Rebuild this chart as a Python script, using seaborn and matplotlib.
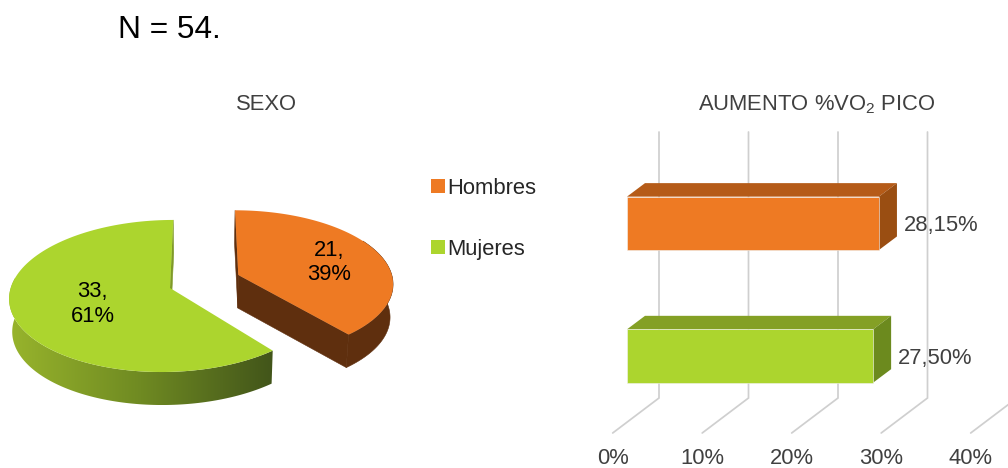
import numpy as np
import matplotlib
matplotlib.use("Agg")
import matplotlib.pyplot as plt
from matplotlib.colors import LinearSegmentedColormap
from matplotlib.patches import Patch, Polygon
import seaborn as sns

# Data
categories = ["Hombres", "Mujeres"]
counts = [21, 33]
vo2_increase = [28.15, 27.50]
vo2_labels = ["28,15%", "27,50%"]
axis_ticks = [0, 10, 20, 30, 40]
sample_note = "N = 54."
pie_title = "SEXO"
bar_title = "AUMENTO %VO$_2$ PICO"

# Colours
ORANGE, GREEN = "#ee7a23", "#acd52e"
ORANGE_TOP, ORANGE_SIDE = "#b55b18", "#9a4e12"
GREEN_TOP, GREEN_SIDE = "#84a025", "#6c8a1e"
ORANGE_WALL = "#5f2f0e"
GRID = "#cfcfcf"
TEXT = "#404040"

W, H = 1008, 468
FONT = 22 * 72 / 100  # 22 px at 100 dpi

sns.set_theme(style="white")
plt.rcParams["font.family"] = ["Liberation Sans", "DejaVu Sans"]
plt.rcParams["mathtext.default"] = "regular"

fig = plt.figure(figsize=(W / 100, H / 100), dpi=100, facecolor="white")

# Full-figure layer in pixel units for the pseudo-3D decoration
canvas = fig.add_axes([0, 0, 1, 1], zorder=0)
canvas.set_xlim(0, W)
canvas.set_ylim(H, 0)
canvas.axis("off")

# Front faces of the bars, on axes scaled in percent
left, right = 627, 627 + 40 * 8.95
top, bottom = 100, 440
row0, row_step = 223.3, 132.7
ax = fig.add_axes([left / W, 1 - bottom / H, (right - left) / W, (bottom - top) / H], zorder=1)
ax.patch.set_alpha(0)
sns.barplot(x=vo2_increase, y=categories, hue=categories, palette=[ORANGE, GREEN],
            orient="h", width=0.402, saturation=1, legend=False, ax=ax,
            edgecolor="#f2f2f2", linewidth=0.4)
ax.set_xlim(axis_ticks[0], axis_ticks[-1])
ax.set_ylim((bottom - row0) / row_step, (top - row0) / row_step)
ax.axis("off")


def to_px(x, y):
    return canvas.transData.inverted().transform(ax.transData.transform((x, y)))


# Back wall and floor gridlines
for t in axis_ticks:
    fx = to_px(t, 0)[0]
    floor_front = fx - 14.3
    canvas.plot([floor_front, fx + 32, fx + 32], [433, 398, 132], color=GRID, lw=1.25, zorder=1,
                solid_joinstyle="miter")
    canvas.text(floor_front, 459, f"{t}%", ha="center", va="center", fontsize=FONT, color=TEXT, zorder=5)

# Top and side faces of the bars
DX, DY = 18, -13.5
bars = [p for p in ax.patches if p.get_width() > 0]
bars.sort(key=lambda p: p.get_y())
faces = [(ORANGE_TOP, ORANGE_SIDE), (GREEN_TOP, GREEN_SIDE)]
for bar, (top_c, side_c), label in zip(bars, faces, vo2_labels):
    x0, y0 = to_px(bar.get_x(), bar.get_y())
    x1, y1 = to_px(bar.get_x() + bar.get_width(), bar.get_y() + bar.get_height())
    canvas.add_patch(Polygon([(x0, y0), (x0 + DX, y0 + DY), (x1 + DX, y0 + DY), (x1, y0)],
                             fc=top_c, ec="none", zorder=2))
    canvas.add_patch(Polygon([(x1, y0), (x1 + DX, y0 + DY), (x1 + DX, y1 + DY), (x1, y1)],
                             fc=side_c, ec="none", zorder=2))
    canvas.text(x1 + DX + 6.5, (y0 + y1) / 2 + 2.5, label, ha="left", va="center",
                fontsize=FONT, color=TEXT, zorder=5)

# Exploded pie in perspective
VANISH_X, TILT, DEPTH, SHRINK = 204, 0.105, 33.0, 0.984
shares = np.array(counts) / sum(counts)
sweep_orange = 360 * shares[0]


def rim(cx, cy, rx, ry, skew, theta, r=1.0):
    """Project a point of the pie disc; theta runs clockwise from twelve o'clock."""
    t = np.radians(theta)
    X, Y = r * np.sin(t), r * np.cos(t)
    s = 1 / (1 + TILT * Y)
    x = cx + rx * X * s + (cx - VANISH_X) * (s - 1) + skew * (r - Y)
    return x, cy - ry * Y * s


def arc(shape, a, b, n=120):
    xs, ys = rim(*shape, np.linspace(a, b, n))
    return np.column_stack([xs, ys])


def lowered(points):
    out = np.array(points, dtype=float)
    out[:, 0] = VANISH_X + (out[:, 0] - VANISH_X) * SHRINK
    out[:, 1] += DEPTH
    return out


def face(points, colour, z):
    canvas.add_patch(Polygon(points, fc=colour, ec=colour, lw=0.4, zorder=z))


# Hombres slice
o_shape = (238.3, 275, 153.5, 71.5, 0)
o_top = arc(o_shape, 0, sweep_orange)
o_apex = np.array([o_shape[:2]], dtype=float)
o_wall = arc(o_shape, 60, sweep_orange)
face(np.vstack([o_wall, lowered(o_wall)[::-1]]), ORANGE_WALL, 2)
face(np.vstack([o_apex, o_top[-1:], lowered(o_top[-1:]), lowered(o_apex)]), ORANGE_WALL, 2)
face(np.vstack([o_top[:1], o_apex, lowered(o_apex), lowered(o_top[:1])]), ORANGE_WALL, 2)
canvas.add_patch(Polygon(np.vstack([o_apex, o_top]), fc=ORANGE, ec="none", zorder=3))

# Mujeres slice: the outer wall darkens from left to right
g_shape = (170, 288, 157, 75.2, -2.3)
g_top = arc(g_shape, sweep_orange, 360)
g_apex = np.array([g_shape[:2]], dtype=float)
g_wall = arc(g_shape, sweep_orange, 278)
wall_poly = Polygon(np.vstack([g_wall, lowered(g_wall)[::-1]]), fc="none", ec="none",
                    transform=canvas.transData)
canvas.add_patch(wall_poly)
wall_cmap = LinearSegmentedColormap.from_list("wall", ["#98b42c", "#6f8a22", "#42551a"])
xmin, xmax = g_wall[:, 0].min(), g_wall[:, 0].max()
ymin, ymax = g_wall[:, 1].min(), g_wall[:, 1].max() + DEPTH
img = canvas.imshow(np.linspace(0, 1, 256)[None, :], cmap=wall_cmap, aspect="auto",
                    extent=[xmin, xmax, ymax, ymin], zorder=2)
img.set_clip_path(wall_poly)
face(np.vstack([g_top[-1:], g_apex, lowered(g_apex), lowered(g_top[-1:])]), "#7f9a28", 2)
canvas.add_patch(Polygon(np.vstack([g_apex, g_top]), fc=GREEN, ec="none", zorder=3))
canvas.set_xlim(0, W)
canvas.set_ylim(H, 0)

# Slice labels
label_spots = [(o_shape, sweep_orange / 2, 0.65), (g_shape, sweep_orange + 360 * shares[1] / 2, 0.5)]
for n, share, (shape, mid, r) in zip(counts, shares, label_spots):
    lx, ly = rim(*shape, mid, r)
    canvas.text(lx, ly + 3, f"{n},\n{share * 100:.0f}%", ha="center", va="center", fontsize=FONT,
                color="black", linespacing=1.2, zorder=5)

# Titles and note
canvas.text(266, 105, pie_title, ha="center", va="center", fontsize=FONT, color=TEXT)
canvas.text(817, 105, bar_title, ha="center", va="center", fontsize=FONT, color=TEXT)
canvas.text(118, 30, sample_note, ha="left", va="center", fontsize=31.6 * 0.72, color="black")

# Legend
handles = [Patch(fc=ORANGE, ec="none"), Patch(fc=GREEN, ec="none")]
canvas.legend(handles, categories, loc="upper left", bbox_to_anchor=(427 / W, 1 - 173.5 / H),
              bbox_transform=fig.transFigure, frameon=False, fontsize=FONT,
              handlelength=0.6, handleheight=0.6, handletextpad=0.14, labelspacing=1.82,
              borderpad=0.2, borderaxespad=0, labelcolor="#262626")

fig.savefig("out.png", dpi=100)
